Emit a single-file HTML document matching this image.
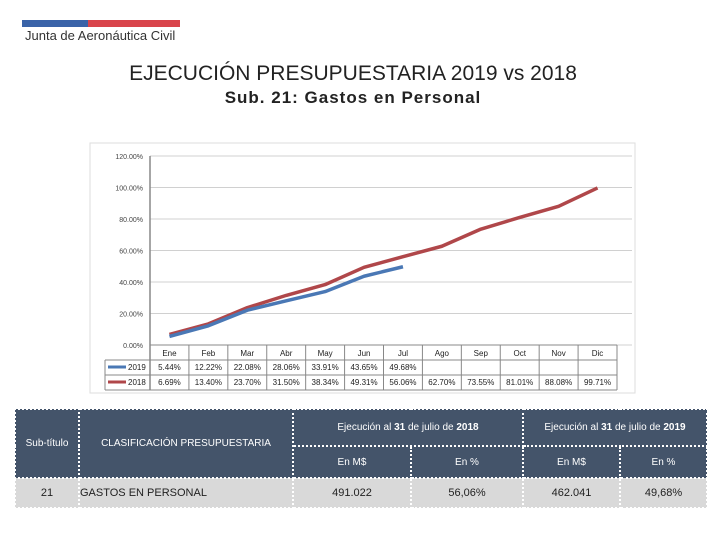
<!DOCTYPE html>
<html><head><meta charset="utf-8"><style>
body{margin:0;width:720px;height:540px;background:#fff;font-family:"Liberation Sans",sans-serif;position:relative;overflow:hidden}
.abs{position:absolute}
table.t{border-collapse:collapse;position:absolute;left:14px;top:408px;width:694px;font-size:10px;color:#fff}
table.t td{text-align:center;border:2px dotted #fff;padding:0}
.h{background:#44546a}
.d{background:#d9d9d9;color:#222;font-size:11px}
</style></head><body>
<div class="abs" style="left:22px;top:20px;width:66px;height:7px;background:#3a63a8"></div>
<div class="abs" style="left:88px;top:20px;width:92px;height:7px;background:#d9444b"></div>
<div class="abs" style="left:25px;top:28px;font-size:13px;color:#333">Junta de Aeronáutica Civil</div>
<div class="abs" style="left:0;width:706px;top:62px;text-align:center;font-size:21px;color:#222">EJECUCIÓN PRESUPUESTARIA 2019 vs 2018</div>
<div class="abs" style="left:0;width:706px;top:88px;text-align:center;font-size:17px;font-weight:bold;color:#222;letter-spacing:1px">Sub. 21: Gastos en Personal</div>
<svg class="abs" style="left:0;top:0" width="720" height="400" id="chart"></svg>
<table class="t">
<tr style="height:37px"><td class="h" rowspan="2" style="width:62px">Sub-título</td><td class="h" rowspan="2" style="width:212px">CLASIFICACIÓN PRESUPUESTARIA</td><td class="h" colspan="2">Ejecución al <b>31</b> de julio de <b>2018</b></td><td class="h" colspan="2">Ejecución al <b>31</b> de julio de <b>2019</b></td></tr>
<tr style="height:32px"><td class="h" style="width:116px">En M$</td><td class="h" style="width:110px">En %</td><td class="h" style="width:95px">En M$</td><td class="h">En %</td></tr>
<tr style="height:30px"><td class="d">21</td><td class="d" style="text-align:left">GASTOS EN PERSONAL</td><td class="d">491.022</td><td class="d">56,06%</td><td class="d">462.041</td><td class="d">49,68%</td></tr>
</table>
<script>
const categories=["Ene","Feb","Mar","Abr","May","Jun","Jul","Ago","Sep","Oct","Nov","Dic"];
const series2019=[5.44,12.22,22.08,28.06,33.91,43.65,49.68];
const series2018=[6.69,13.40,23.70,31.50,38.34,49.31,56.06,62.70,73.55,81.01,88.08,99.71];
const yTicks=[0,20,40,60,80,100,120];
const svg=document.getElementById('chart');const NS='http://www.w3.org/2000/svg';
const x0=150,x1=617,gridEnd=632,y0=345,y120=156;const cw=(x1-x0)/categories.length;
const X=i=>x0+cw*(i+0.5);const Y=v=>y0-(v/120)*(y0-y120);
function el(t,a,p){const e=document.createElementNS(NS,t);for(const k in a)e.setAttribute(k,a[k]);(p||svg).appendChild(e);return e;}
const fr=el('rect',{x:90,y:143,width:545,height:250,fill:'none',stroke:'#ddd'});


yTicks.forEach(v=>{const g=el('line',{x1:x0,x2:gridEnd,y1:Y(v),y2:Y(v),stroke:'#d0d0d0'});


const t=el('text',{x:143,y:Y(v)+3,'text-anchor':'end','font-size':7,fill:'#444'});t.textContent=v.toFixed(2)+'%';

});
el('line',{x1:x0,x2:x0,y1:y120,y2:390,stroke:'#888','stroke-width':1.5});
const rows=[345,360,375,390];
rows.forEach(y=>el('line',{x1:y==345?x0:105,x2:x1,y1:y,y2:y,stroke:'#888'}));
for(let i=0;i<=categories.length;i++)el('line',{x1:x0+cw*i,x2:x0+cw*i,y1:345,y2:390,stroke:'#888'});
el('line',{x1:105,x2:105,y1:360,y2:390,stroke:'#888'});
categories.forEach((c,i)=>{const t=el('text',{x:X(i),y:356,'text-anchor':'middle','font-size':8,fill:'#222'});t.textContent=c;

});
function series(data,color,rowY,label){
const p=el('polyline',{points:data.map((v,i)=>X(i)+','+Y(v)).join(' '),fill:'none',stroke:color,'stroke-width':3.5,'stroke-linejoin':'round'});


el('line',{x1:108,x2:126,y1:rowY,y2:rowY,stroke:color,'stroke-width':3});
const l=el('text',{x:128,y:rowY+3,'font-size':8,fill:'#222'});l.textContent=label;


data.forEach((v,i)=>{const t=el('text',{x:X(i),y:rowY+3,'text-anchor':'middle','font-size':8,fill:'#222'});t.textContent=v.toFixed(2)+'%';

});}
series(series2018,'#b0474a',382,'2018');
series(series2019,'#4a78b5',367,'2019');
</script>
</body></html>
